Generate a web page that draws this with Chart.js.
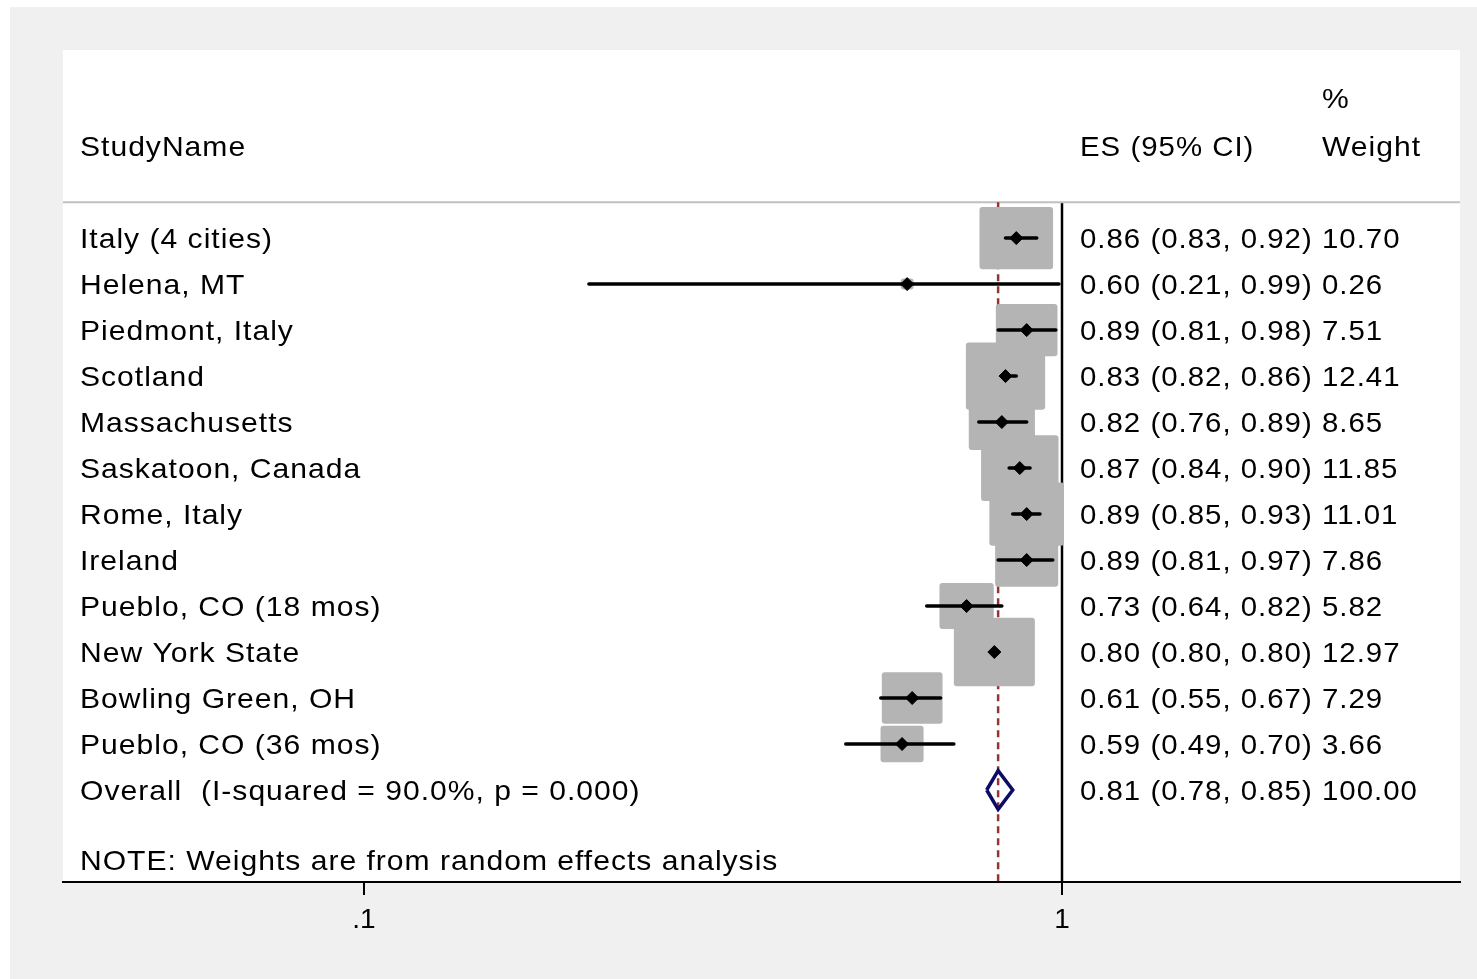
<!DOCTYPE html>
<html>
<head>
<meta charset="utf-8">
<script src="https://cdn.jsdelivr.net/npm/chart.js@4.4.1/dist/chart.umd.min.js"></script>
<style>
  html, body { margin: 0; padding: 0; background: #ffffff; }
  #wrap { width: 1477px; height: 979px; }
</style>
</head>
<body>
<div id="wrap"><canvas id="forest" width="1477" height="979"></canvas></div>
<script>
// Study rows (top to bottom)
const studyNames = [
  'Italy (4 cities)', 'Helena, MT', 'Piedmont, Italy', 'Scotland', 'Massachusetts',
  'Saskatoon, Canada', 'Rome, Italy', 'Ireland', 'Pueblo, CO (18 mos)',
  'New York State', 'Bowling Green, OH', 'Pueblo, CO (36 mos)'
];
const effectSizes = [0.86, 0.60, 0.89, 0.83, 0.82, 0.87, 0.89, 0.89, 0.73, 0.80, 0.61, 0.59];
const ciLower     = [0.83, 0.21, 0.81, 0.82, 0.76, 0.84, 0.85, 0.81, 0.64, 0.80, 0.55, 0.49];
const ciUpper     = [0.92, 0.99, 0.98, 0.86, 0.89, 0.90, 0.93, 0.97, 0.82, 0.80, 0.67, 0.70];
const weights     = [10.70, 0.26, 7.51, 12.41, 8.65, 11.85, 11.01, 7.86, 5.82, 12.97, 7.29, 3.66];

// Pooled (random effects) estimate
const overallLabel = 'Overall  (I-squared = 90.0%, p = 0.000)';
const overallES = 0.81;
const overallLower = 0.78;
const overallUpper = 0.85;
const overallWeight = 100.00;

const noteText = 'NOTE: Weights are from random effects analysis';
const xTickValues = [0.1, 1];
const xTickLabels = ['.1', '1'];

// Row layout in y units (one unit per row)
const overallRow = studyNames.length;
const noteRow = 13.52;
const headerRow = -2;
const pctRow = -3.04;
const headerRule = -0.78;
const yMin = -4.09, yMax = 14.0;
const xMin = 0.03705, xMax = 3.717;

const fmt2 = v => v.toFixed(2);
const FONT = '28px "Liberation Sans", Arial, sans-serif';

// Panel backgrounds
const backdrop = {
  id: 'backdrop',
  beforeDraw(chart) {
    const { ctx, chartArea: a, width, height } = chart;
    ctx.save();
    ctx.fillStyle = '#ffffff';
    ctx.fillRect(0, 0, width, height);
    ctx.fillStyle = '#f0f0f0';
    ctx.fillRect(10, 7, width - 10, height - 7);
    ctx.fillStyle = '#ffffff';
    ctx.fillRect(a.left, a.top, a.right - a.left, a.bottom - a.top);
    ctx.restore();
  }
};

// Weight boxes, drawn over the reference lines and under the CIs
function roundRect(ctx, x, y, w, h, r) {
  ctx.beginPath();
  ctx.moveTo(x + r, y);
  ctx.lineTo(x + w - r, y);
  ctx.quadraticCurveTo(x + w, y, x + w, y + r);
  ctx.lineTo(x + w, y + h - r);
  ctx.quadraticCurveTo(x + w, y + h, x + w - r, y + h);
  ctx.lineTo(x + r, y + h);
  ctx.quadraticCurveTo(x, y + h, x, y + h - r);
  ctx.lineTo(x, y + r);
  ctx.quadraticCurveTo(x, y, x + r, y);
  ctx.closePath();
}
const weightBoxes = {
  id: 'weightBoxes',
  afterDatasetDraw(chart, args) {
    if (chart.data.datasets[args.index].role !== 'pooledLine') return;
    const { ctx, scales: { x, y } } = chart;
    ctx.save();
    ctx.fillStyle = '#b4b4b4';
    effectSizes.forEach((es, i) => {
      const side = 22.5 * Math.sqrt(weights[i]);
      const w = Math.max(side, 13), h = Math.max(side / 1.18, 11);
      const cx = x.getPixelForValue(es), cy = y.getPixelForValue(i);
      roundRect(ctx, cx - w / 2, cy - h / 2, w, h, 3);
      ctx.fill();
    });
    ctx.restore();
  }
};

// Table text columns
const tableText = {
  id: 'tableText',
  afterDraw(chart) {
    const { ctx, chartArea: a, scales: { x, y } } = chart;
    const nameX = a.left + 17;
    const esX = x.getPixelForValue(1) + 18;
    const wtX = 1322;
    const put = (txt, px, row, stretch) => {
      const py = y.getPixelForValue(row) + 10;
      ctx.save();
      ctx.scale(stretch, 1);
      ctx.letterSpacing = (1 / stretch).toFixed(3) + 'px';
      ctx.fillText(txt, px / stretch, py);
      ctx.restore();
    };
    const S_TXT = 1.074, S_NUM = 1.05;
    ctx.save();
    ctx.font = FONT;
    ctx.fillStyle = '#000000';
    ctx.textAlign = 'left';
    ctx.textBaseline = 'alphabetic';
    put('StudyName', nameX, headerRow, S_TXT);
    put('ES (95% CI)', esX, headerRow, S_NUM);
    put('%', wtX, pctRow, S_TXT);
    put('Weight', wtX, headerRow, S_TXT);
    studyNames.forEach((n, i) => {
      put(n, nameX, i, S_TXT);
      put(`${fmt2(effectSizes[i])} (${fmt2(ciLower[i])}, ${fmt2(ciUpper[i])})`, esX, i, S_NUM);
      put(fmt2(weights[i]), wtX, i, S_NUM);
    });
    put(overallLabel, nameX, overallRow, S_TXT);
    put(`${fmt2(overallES)} (${fmt2(overallLower)}, ${fmt2(overallUpper)})`, esX, overallRow, S_NUM);
    put(fmt2(overallWeight), wtX, overallRow, S_NUM);
    put(noteText, nameX, noteRow, S_TXT);
    ctx.restore();
  }
};

const lineDefaults = { showLine: true, pointRadius: 0, pointHoverRadius: 0, fill: false };

const datasets = [
  // header rule
  { ...lineDefaults, order: 12, data: [{ x: xMin, y: headerRule }, { x: xMax, y: headerRule }],
    borderColor: '#c0c0c0', borderWidth: 2 },
  // line of no effect
  { ...lineDefaults, order: 12, data: [{ x: 1, y: headerRule }, { x: 1, y: yMax }],
    borderColor: '#000000', borderWidth: 2.5 },
  // pooled estimate line
  { ...lineDefaults, order: 11, role: 'pooledLine',
    data: [{ x: overallES, y: headerRule }, { x: overallES, y: yMax }],
    borderColor: '#963434', borderWidth: 2.5, borderDash: [7, 5] },
];

// confidence intervals
studyNames.forEach((n, i) => {
  datasets.push({ ...lineDefaults, order: 2,
    data: [{ x: ciLower[i], y: i }, { x: ciUpper[i], y: i }],
    borderColor: '#000000', borderWidth: 3.5, borderCapStyle: 'round' });
});

// point estimates
datasets.push({
  order: 1, showLine: false,
  data: effectSizes.map((v, i) => ({ x: v, y: i })),
  pointStyle: 'rectRot', pointRadius: 6.5, pointHoverRadius: 6.5,
  backgroundColor: '#000000', borderColor: '#000000', borderWidth: 1
});

// pooled diamond
const dh = 0.42;
datasets.push({ ...lineDefaults, order: 1,
  data: [
    { x: overallLower, y: overallRow }, { x: overallES, y: overallRow - dh },
    { x: overallUpper, y: overallRow }, { x: overallES, y: overallRow + dh },
    { x: overallLower, y: overallRow }
  ],
  borderColor: '#0c0c66', borderWidth: 3.5, borderJoinStyle: 'miter', tension: 0
});

new Chart(document.getElementById('forest'), {
  type: 'scatter',
  data: { datasets },
  options: {
    responsive: false,
    animation: false,
    events: [],
    layout: { padding: { left: 63, right: 17, top: 50, bottom: 0 } },
    plugins: { legend: { display: false }, tooltip: { enabled: false } },
    scales: {
      x: {
        type: 'logarithmic',
        min: xMin, max: xMax,
        afterBuildTicks(scale) { scale.ticks = xTickValues.map(v => ({ value: v })); },
        afterFit(scale) { scale.height = 97; },
        ticks: {
          autoSkip: false, maxRotation: 0, padding: 8,
          color: '#000000',
          font: { family: '"Liberation Sans", Arial, sans-serif', size: 28 },
          callback: (v) => xTickLabels[xTickValues.indexOf(v)] ?? ''
        },
        grid: { display: true, drawOnChartArea: false, drawTicks: true, tickLength: 13,
                color: '#000000', lineWidth: 2 },
        border: { display: true, color: '#000000', width: 2 }
      },
      y: {
        type: 'linear', display: false, reverse: true, min: yMin, max: yMax
      }
    }
  },
  plugins: [backdrop, weightBoxes, tableText]
});
</script>
</body>
</html>
